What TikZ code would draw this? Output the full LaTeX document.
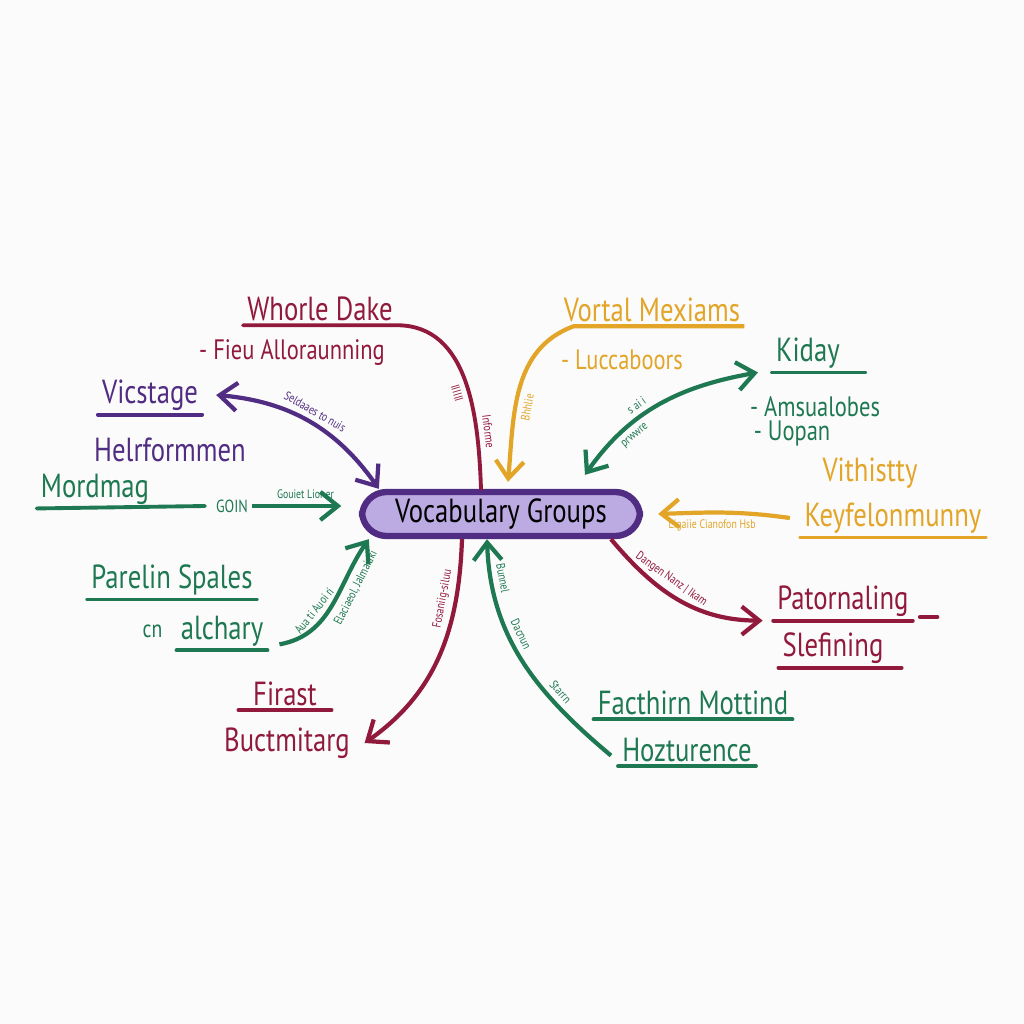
\documentclass[tikz,border=0pt]{standalone}
\usepackage{fontspec}
\setmainfont{PT Sans}[FakeStretch=0.8]
\usetikzlibrary{positioning,arrows.meta,calc}
\definecolor{mmpurple}{RGB}{80,45,130}
\definecolor{mmlilac}{RGB}{188,170,226}
\definecolor{mmred}{RGB}{145,25,60}
\definecolor{mmgreen}{RGB}{30,120,82}
\definecolor{mmgold}{RGB}{226,165,40}
\definecolor{paper}{RGB}{251,251,251}
\tikzset{
  hub/.style={draw=mmpurple,fill=mmlilac,rounded corners=7pt,line width=1.8pt,
              minimum width=2.78cm,minimum height=0.44cm,inner sep=1pt,
              font=\fontsize{9.5}{11}\selectfont},
  word/.style={font=\fontsize{9.5}{11}\selectfont,inner sep=1pt},
  smallword/.style={font=\fontsize{8}{9}\selectfont,inner sep=1pt},
  uline/.style={line width=1.1pt,line cap=round},
  arr/.style={-{Straight Barb[length=5pt,width=8pt]},line width=1.2pt},
  arrtwo/.style={{Straight Barb[length=5pt,width=8pt]}-{Straight Barb[length=5pt,width=8pt]},line width=1.2pt},
  tag/.style={font=\fontsize{3.5}{4}\selectfont,sloped,inner sep=1.5pt},
}

\begin{document}
\begin{tikzpicture}[x=1cm,y=1cm]
  \fill[paper] (0,0) rectangle (10.24,-10.24);

  \node[hub] (vg) at (5.01,-5.14) {Vocabulary Groups};

  % top left, red
  \node[word,text=mmred] (wd) at (3.20,-3.09) {Whorle Dake};
  \node[smallword,text=mmred] (fa) at (2.92,-3.52) {- Fieu Alloraunning};
  \draw[uline,mmred] (wd.south west) -- (wd.south east)
     to[out=0,in=92] node[tag,below,pos=0.55] {IIIIII} node[tag,above,pos=0.75] {Informe}
     ([xshift=-0.2cm]vg.north);

  % purple
  \node[word,text=mmpurple] (vs) at (1.50,-3.95) {Vicstage};
  \node[word,text=mmpurple] (hf) at (1.70,-4.50) {Helrformmen};
  \draw[uline,mmpurple] (vs.south west) -- (vs.south east);
  \draw[arrtwo,mmpurple] ([xshift=4pt]vs.east) to[out=-5,in=125]
     node[tag,above,pos=0.5] {Seldaaes to nuis} ([xshift=0.2cm]vg.north west);

  % green, left
  \node[word,text=mmgreen] (md) at (0.95,-4.89) {Mordmag};
  \node[font=\fontsize{5}{5}\selectfont,text=mmgreen,inner sep=1pt] (goin) at (2.32,-5.06) {GOIN};
  \draw[uline,mmgreen] (md.south west) -- ([xshift=-2pt]goin.west);
  \draw[arr,mmgreen,shorten >=5pt] (goin.east) -- node[tag,above] {Gouiet Lioner} (goin.east -| vg.west);

  \node[word,text=mmgreen] (ps) at (1.72,-5.80) {Parelin Spales};
  \node[word,text=mmgreen] (al) at (2.22,-6.31) {alchary};
  \node[font=\fontsize{7}{8}\selectfont,text=mmgreen,inner sep=1pt,left=0.1cm of al] (cn) {cn};
  \draw[uline,mmgreen] (ps.south west) -- (ps.south east);
  \draw[uline,mmgreen] (al.south west) -- (al.south east);
  \draw[arr,mmgreen] ([xshift=0.12cm,yshift=0.06cm]al.south east) to[out=10,in=235]
     node[tag,above,pos=0.38] {Aua ti Auoi ri} node[tag,below,pos=0.68] {Elaciaeol, Jalmaiaki}
     ([xshift=0.1cm]vg.south west);

  % red, bottom left
  \node[word,text=mmred] (fi) at (2.85,-6.94) {Firast};
  \node[word,text=mmred] (bu) at (2.87,-7.43) {Buctmitarg};
  \draw[uline,mmred] ([xshift=-3pt]fi.south west) -- ([xshift=3pt]fi.south east);
  \draw[arr,mmred] ([xshift=-0.39cm]vg.south) to[out=-92,in=35]
     node[tag,above,pos=0.25] {Fosaniig-siluu} ([xshift=3pt]bu.east);

  % green, bottom
  \node[word,text=mmgreen] (fm) at (6.93,-7.03) {Facthirn Mottind};
  \node[word,text=mmgreen] (hz) at (6.87,-7.50) {Hozturence};
  \draw[uline,mmgreen] (fm.south west) -- (fm.south east);
  \draw[uline,mmgreen] (hz.south west) -- (hz.south east);
  \draw[arr,mmgreen] ([xshift=-2pt,yshift=3pt]hz.south west) to[out=140,in=-88]
     node[tag,above,pos=0.3] {Starrn} node[tag,above,pos=0.6] {Dacnun} node[tag,above,pos=0.85] {Bunnel}
     ([xshift=-0.14cm]vg.south);

  % red, right
  \node[word,text=mmred] (pa) at (8.43,-6.01) {Patornaling};
  \node[word,text=mmred] (sl) at (8.33,-6.48) {Slefining};
  \draw[uline,mmred] (pa.south west) -- (pa.south east);
  \draw[uline,mmred] ([xshift=2pt,yshift=1pt]pa.south east) -- ([xshift=7pt,yshift=1pt]pa.south east);
  \draw[uline,mmred] (sl.south west) -- ([xshift=4pt]sl.south east);
  \draw[arr,mmred] ([xshift=1.1cm]vg.south) to[out=-50,in=180]
     node[tag,above,pos=0.4] {Dangen Nanz | Ikam} ([xshift=-3pt]pa.south west);

  % gold, right
  \node[word,text=mmgold] (vi) at (8.70,-4.73) {Vithistty};
  \node[word,text=mmgold] (ke) at (8.93,-5.18) {Keyfelonmunny};
  \draw[uline,mmgold] (ke.south west) -- (ke.south east);
  \draw[arr,mmgold] ([xshift=-3pt]ke.west) to[out=172,in=2]
     node[tag,below,pos=0.6] {Ligaiie Cianofon Hsb} ([xshift=0.15cm]vg.east);

  % gold, top
  \node[word,text=mmgold] (vm) at (6.52,-3.10) {Vortal Mexiams};
  \node[smallword,text=mmgold] (lu) at (6.22,-3.60) {- Luccaboors};
  \draw[arr,mmgold] (vm.south east) -- ([xshift=4pt]vm.south west) to[out=200,in=85]
     node[tag,below,pos=0.6] {Bhhlie} ([xshift=0.07cm,yshift=0.07cm]vg.north);

  % green, top right
  \node[word,text=mmgreen] (ki) at (8.08,-3.53) {Kiday};
  \node[smallword,text=mmgreen] (am) at (8.15,-4.07) {- Amsualobes};
  \node[smallword,text=mmgreen] (uo) at (7.92,-4.33) {- Uopan};
  \draw[uline,mmgreen] (ki.south west) -- ([xshift=6pt]ki.south east);
  \draw[arrtwo,mmgreen] ([xshift=0.84cm,yshift=0.14cm]vg.north) to[out=55,in=190]
     node[tag,above,pos=0.4] {s ai i} node[tag,below,pos=0.3] {prwwre}
     ([xshift=-4pt]ki.south west);
\end{tikzpicture}
\end{document}
